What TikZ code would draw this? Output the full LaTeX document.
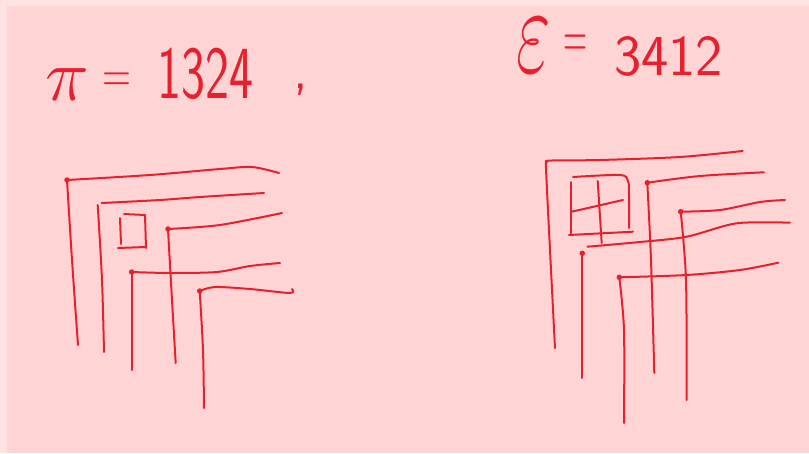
\RequirePackage{fix-cm}
\documentclass[tikz,border=0pt]{standalone}
\usepackage{fontspec}
\usepackage{graphicx}
\definecolor{inkred}{HTML}{E8202E}
\definecolor{paperpink}{HTML}{FFD4D4}
\definecolor{edgepink}{HTML}{FFE2E2}
\tikzset{
  ink/.style={draw=inkred, line width=2pt, line cap=round, line join=round},
  dotmark/.style={circle, fill=inkred, inner sep=0pt, minimum size=5.5pt},
  hand/.style={text=inkred, inner sep=0pt, anchor=base west, font=\sffamily}
}
\begin{document}
\begin{tikzpicture}[x=1pt,y=-1pt]
\useasboundingbox (0,0) rectangle (809,453);
\fill[edgepink] (0,0) rectangle (809,453);
\fill[paperpink] (7,6) rectangle (809,453);

% ---------- labels ----------
\node[hand] (pi) at (45,100) {\fontsize{74}{74}\selectfont$\pi$};
\node[hand] (eqL) at (102,92) {\scalebox{0.72}[1]{\fontsize{55}{55}\selectfont=}};
\node[hand] (numL) at (157,98) {\scalebox{0.68}[1]{\fontsize{75}{75}\selectfont 1324}};
\node[hand] (comma) at (293,88) {\fontsize{56}{56}\selectfont,};
\node[hand] (eps) at (516,72) {\scalebox{0.6}[1]{\fontsize{125}{125}\selectfont$\varepsilon$}};
\node[hand] (eqR) at (563,58) {\scalebox{0.5}[1]{\fontsize{66}{66}\selectfont=}};
\node[hand] (numR) at (614,75) {\fontsize{58}{58}\selectfont 3412};

% ---------- left diagram ----------
\coordinate (l1) at (67,180);
\coordinate (l3) at (168,229);
\coordinate (l4) at (131.7,272);
\coordinate (l5) at (199.7,291);
\draw[ink] plot[smooth] coordinates {(67,180) (72,260) (78,345)};
\draw[ink] plot[smooth] coordinates {(67,180) (150,175) (220,169) (252,167) (279,173)};
\draw[ink] plot[smooth] coordinates {(97.7,205) (102,280) (104,352)};
\draw[ink] plot[smooth] coordinates {(101.7,203) (160,200) (200,197) (264,193)};
\draw[ink] (120,218) -- (121,244);
\draw[ink] (124,214) -- (145,215) -- (146,248);
\draw[ink] (118,248) -- (146,247);
\draw[ink] plot[smooth] coordinates {(l3) (172,300) (175.7,363)};
\draw[ink] plot[smooth] coordinates {(l3) (220,225) (282,213)};
\draw[ink] (l4) -- (131.7,370);
\draw[ink] plot[smooth] coordinates {(l4) (170,273) (217,272) (250,266) (280,263)};
\draw[ink] plot[smooth] coordinates {(l5) (203,350) (204,408)};
\draw[ink] plot[smooth] coordinates {(l5) (215,287) (250,289) (290,293) (292,289)};
\foreach \p in {l1,l3,l4,l5} \node[dotmark] at (\p) {};

% ---------- right diagram ----------
\coordinate (r1) at (547,162);
\coordinate (ra) at (647.3,182.7);
\coordinate (rb) at (680.7,211.7);
\coordinate (rc) at (582.3,253.3);
\coordinate (rd) at (619.3,277.3);
\draw[ink] plot[smooth] coordinates {(555,348) (550,250) (546,168) (547,162) (552,160.5) (600,160) (680,157) (742.7,151)};
\draw[ink] (571,182) -- (571,235);
\draw[ink] plot[smooth] coordinates {(573,177) (620,175) (628,181) (629,195) (629,228)};
\draw[ink] (569,235) -- (633,231.7);
\draw[ink] (597.7,181) -- (601.7,243);
\draw[ink] (571.7,211.7) -- (623,200);
\draw[ink] plot[smooth] coordinates {(ra) (651,260) (654.3,373)};
\draw[ink] plot[smooth] coordinates {(ra) (700,176) (764,172.3)};
\draw[ink] plot[smooth] coordinates {(rb) (686,280) (686.7,400)};
\draw[ink] plot[smooth] coordinates {(rb) (720,210) (760,202) (785,200)};
\draw[ink] (rc) -- (582.3,378);
\draw[ink] plot[smooth] coordinates {(587.3,246.7) (640,242) (686.7,236.7) (736.7,223.3) (790,222.7)};
\draw[ink] plot[smooth] coordinates {(rd) (624,330) (624,423)};
\draw[ink] plot[smooth] coordinates {(rd) (686.7,275) (740,270) (778.3,262.7)};
\foreach \p in {ra,rb,rc,rd} \node[dotmark] at (\p) {};
\end{tikzpicture}
\end{document}
